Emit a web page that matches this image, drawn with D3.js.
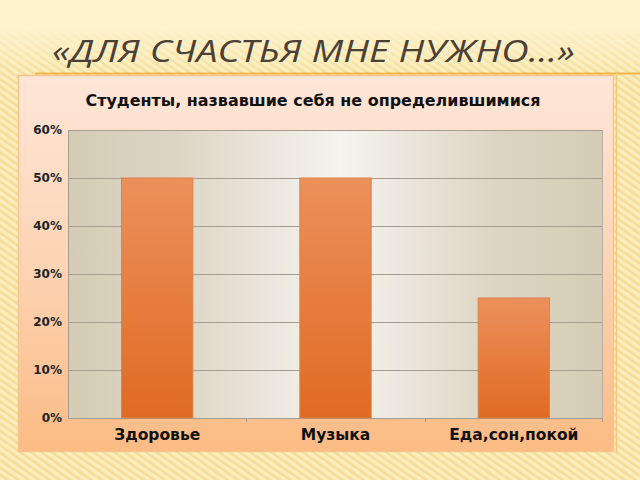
<!DOCTYPE html>
<html><head><meta charset="utf-8">
<script src="https://cdn.jsdelivr.net/npm/d3@7"></script>
<style>html,body{margin:0;padding:0;background:#fdf3cc;}svg{display:block;}</style>
</head><body>
<svg id="c" width="640" height="480"></svg>
<script>
const pageTitle = "«ДЛЯ СЧАСТЬЯ МНЕ НУЖНО…»";
const chartTitle = "Студенты, назвавшие себя не определившимися";
const categories = ["Здоровье", "Музыка", "Еда,сон,покой"];
const values = [0.50, 0.50, 0.25];
const yTicks = [0, 0.1, 0.2, 0.3, 0.4, 0.5, 0.6];

const svg = d3.select("#c");
const defs = svg.append("defs");

// background stripes
const pat = defs.append("pattern").attr("id","stripes").attr("patternUnits","userSpaceOnUse")
  .attr("width",6).attr("height",6).attr("patternTransform","rotate(-55)");
pat.append("rect").attr("width",6).attr("height",6).attr("fill","#fcedbf");
pat.append("rect").attr("width",2.5).attr("height",6).attr("fill","#f3dd96");
const fade = defs.append("linearGradient").attr("id","fade").attr("x1",0).attr("y1",0).attr("x2",0).attr("y2",1);
fade.append("stop").attr("offset","0").attr("stop-color","#fff").attr("stop-opacity",0);
fade.append("stop").attr("offset","0.06").attr("stop-color","#fff").attr("stop-opacity",0);
fade.append("stop").attr("offset","0.16").attr("stop-color","#fff").attr("stop-opacity",1);
fade.append("stop").attr("offset","1").attr("stop-color","#fff").attr("stop-opacity",1);
defs.append("mask").attr("id","fm").append("rect").attr("width",640).attr("height",480).attr("fill","url(#fade)");

svg.append("rect").attr("width",640).attr("height",480).attr("fill","#fdf2cc");
svg.append("rect").attr("width",640).attr("height",480).attr("fill","url(#stripes)").attr("mask","url(#fm)");

// page title
svg.append("text").attr("x",52).attr("y",62).text(pageTitle)
  .attr("font-family","Open Sans, DejaVu Sans").attr("font-style","italic").attr("font-size",31).attr("fill","#4b4036")
  .attr("textLength",523).attr("lengthAdjust","spacingAndGlyphs");
svg.append("line").attr("x1",35).attr("x2",640).attr("y1",73.5).attr("y2",73.5)
  .attr("stroke","#f2b54a").attr("stroke-width",2);
svg.append("line").attr("x1",616.5).attr("x2",616.5).attr("y1",73).attr("y2",454)
  .attr("stroke","#f3c880").attr("stroke-width",1.5);

// chart box
const boxG = defs.append("linearGradient").attr("id","boxg").attr("x1",0).attr("y1",0).attr("x2",0).attr("y2",1);
boxG.append("stop").attr("offset","0").attr("stop-color","#fde6d8");
boxG.append("stop").attr("offset","0.5").attr("stop-color","#fdd4b4");
boxG.append("stop").attr("offset","1").attr("stop-color","#fbbb84");
svg.append("rect").attr("x",18.5).attr("y",75.5).attr("width",595).attr("height",376)
  .attr("fill","url(#boxg)").attr("stroke","#f6c58e").attr("stroke-width",1.5);

svg.append("text").attr("x",313).attr("y",106).attr("text-anchor","middle").text(chartTitle)
  .attr("font-family","DejaVu Sans").attr("font-weight","bold").attr("font-size",15.5).attr("fill","#111")
  .attr("textLength",455).attr("lengthAdjust","spacingAndGlyphs");

// plot area
const m = {l:68, r:603, t:130, b:418};
const x = d3.scaleBand().domain(categories).range([m.l, m.r]).paddingInner(0).paddingOuter(0);
const y = d3.scaleLinear().domain([0,0.6]).range([m.b, m.t]);

const pg = defs.append("linearGradient").attr("id","plotg").attr("x1",0).attr("y1",0).attr("x2",1).attr("y2",0);
[["0","#d5ccb6"],["0.2","#ddd5c4"],["0.51","#f5f3ee"],["0.8","#ddd5c3"],["1","#d5ccb5"]]
  .forEach(s=>pg.append("stop").attr("offset",s[0]).attr("stop-color",s[1]));
svg.append("rect").attr("x",m.l).attr("y",m.t).attr("width",m.r-m.l).attr("height",m.b-m.t).attr("fill","url(#plotg)");

// grid
svg.append("g").selectAll("line").data(yTicks).join("line")
  .attr("x1",m.l).attr("x2",m.r).attr("y1",d=>Math.round(y(d))+0.5).attr("y2",d=>Math.round(y(d))+0.5)
  .attr("stroke","#a59d92").attr("stroke-width",1);
svg.append("line").attr("x1",m.l+0.5).attr("x2",m.l+0.5).attr("y1",m.t).attr("y2",m.b).attr("stroke","#a59d92");
svg.append("line").attr("x1",m.r-0.5).attr("x2",m.r-0.5).attr("y1",m.t).attr("y2",m.b).attr("stroke","#b8b0a4");

// y axis
const yAxis = d3.axisLeft(y).tickValues(yTicks).tickFormat(d3.format(".0%")).tickSize(0).tickPadding(6);
const ya = svg.append("g").attr("transform",`translate(${m.l},0)`).call(yAxis);
ya.select(".domain").remove();
ya.selectAll("text").attr("font-family","DejaVu Sans").attr("font-weight","bold").attr("font-size",12).attr("fill","#222");

// x axis
const xa = svg.append("g").attr("transform",`translate(0,${m.b})`)
  .call(d3.axisBottom(x).tickSize(0).tickPadding(11));
xa.select(".domain").remove();
xa.selectAll("text").attr("font-family","DejaVu Sans").attr("font-weight","bold").attr("font-size",15.5).attr("fill","#111");
svg.append("g").selectAll("line").data(categories.slice(1)).join("line")
  .attr("x1",d=>Math.round(x(d))+0.5).attr("x2",d=>Math.round(x(d))+0.5).attr("y1",m.b).attr("y2",m.b+4)
  .attr("stroke","#a59d92");
svg.append("line").attr("x1",m.r-0.5).attr("x2",m.r-0.5).attr("y1",m.b).attr("y2",m.b+4).attr("stroke","#a59d92");

// bars
const bg = defs.append("linearGradient").attr("id","barg").attr("x1",0).attr("y1",0).attr("x2",0).attr("y2",1);
bg.append("stop").attr("offset","0").attr("stop-color","#ec905c");
bg.append("stop").attr("offset","1").attr("stop-color","#e06a22");
const bw = x.bandwidth()*0.4;
svg.append("g").selectAll("rect").data(values).join("rect")
  .attr("x",(d,i)=>x(categories[i])+(x.bandwidth()-bw)/2)
  .attr("y",d=>y(d)).attr("width",bw).attr("height",d=>y(0)-y(d))
  .attr("fill","url(#barg)").attr("stroke","#d8844a").attr("stroke-width",1);
</script>
</body></html>
